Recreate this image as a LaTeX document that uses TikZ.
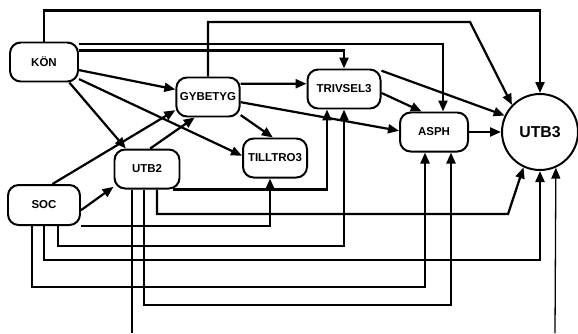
\documentclass[tikz,border=0pt]{standalone}
\usepackage{fontspec}
\setmainfont{Liberation Sans}
\usetikzlibrary{arrows.meta,calc}
\tikzset{var/.style={draw,line width=1.7pt,rounded corners=3.2mm,align=center,minimum width=20.4mm,minimum height=11.7mm,inner sep=1pt,font=\fontsize{9.8}{11}\selectfont\bfseries},
  outcome/.style={draw,circle,line width=1.7pt,minimum size=22.8mm,inner sep=0pt,font=\fontsize{13.5}{15}\selectfont\bfseries},
  arr/.style={-{Triangle[length=3.3mm,width=2.7mm]},line width=1.9pt},
  resid/.style={line width=1.1pt}}
\begin{document}
\begin{tikzpicture}[x=0.3mm,y=-0.3mm]
\useasboundingbox (0,0) rectangle (578,333);
\node[var] (kon) at (44,62) {KÖN};
\node[var,minimum width=19mm] (gyb) at (208,97) {GYBETYG};
\node[var,minimum width=21.9mm] (triv) at (344,89) {TRIVSEL3};
\node[var,minimum width=19.2mm] (till) at (275,158) {TILLTRO3};
\node[var] (asph) at (434,132) {ASPH};
\node[var,minimum width=19.5mm] (utb2) at (147,169) {UTB2};
\node[var,minimum width=21.6mm,minimum height=12mm] (soc) at (44,205) {SOC};
\node[outcome] (utb3) at (540,132) {UTB3};
\coordinate (e2) at (132,333); \coordinate (e3) at (555,333);
\draw[arr] (kon.north) -- ++(0,-31) -| (utb3.north);
\draw[arr] (gyb.north) -- ++(0,-54.5) -- ++(262,0) -- (utb3.136);
\draw[arr] ($(kon.north east)+(0,2.5)$) -| ($(asph.north)+(9,0)$);
\draw[arr] ($(kon.north east)+(0,9)$) -| (triv.north);
\draw[arr] (kon.-13) -- (gyb.167); \draw[arr] (kon.-26) -- (till.176); \draw[arr] (kon.-39) -- (utb2.136);
\draw[arr] (soc.68) -- (gyb.202); \draw[arr] (utb2.81) -- (gyb.237); \draw[arr] (soc.-8) -- (utb2.208);
\draw[arr] (gyb.22) -- (triv.172); \draw[arr] (gyb.-9) -- (asph.178); \draw[arr] (gyb.-29) -- (till.96);
\draw[arr] (triv.-6) -- (asph.121); \draw[arr] (triv.26) -- (utb3.155); \draw[arr] (asph) -- (utb3);
\draw[arr] ($(utb2.south east)+(-7,0)$) -| ($(triv.south)+(-17,0)$);
\draw[arr] ($(utb2.south)+(10,0)$) -- ++(0,24.5) -- ++(351,0) -- (utb3.245);
\draw[arr] (soc.south east) -| ($(till.south)+(-5,0)$);
\draw[arr] ($(soc.south)+(14,0)$) -- ++(0,20) -| (triv.south);
\draw[arr] (soc.south) -- ++(0,34) -| (utb3.south);
\draw[arr] ($(soc.south)+(-12,0)$) -- ++(0,61) -| ($(asph.south)+(-9,0)$);
\draw[arr] ($(utb2.south)+(-3,0)$) -- ++(0,115.5) -| ($(asph.south)+(17,0)$);
\draw[resid] (e2) -- (e2 |- utb2.south);
\draw[arr,resid] (e3) -- (utb3.-66);
\end{tikzpicture}
\end{document}
